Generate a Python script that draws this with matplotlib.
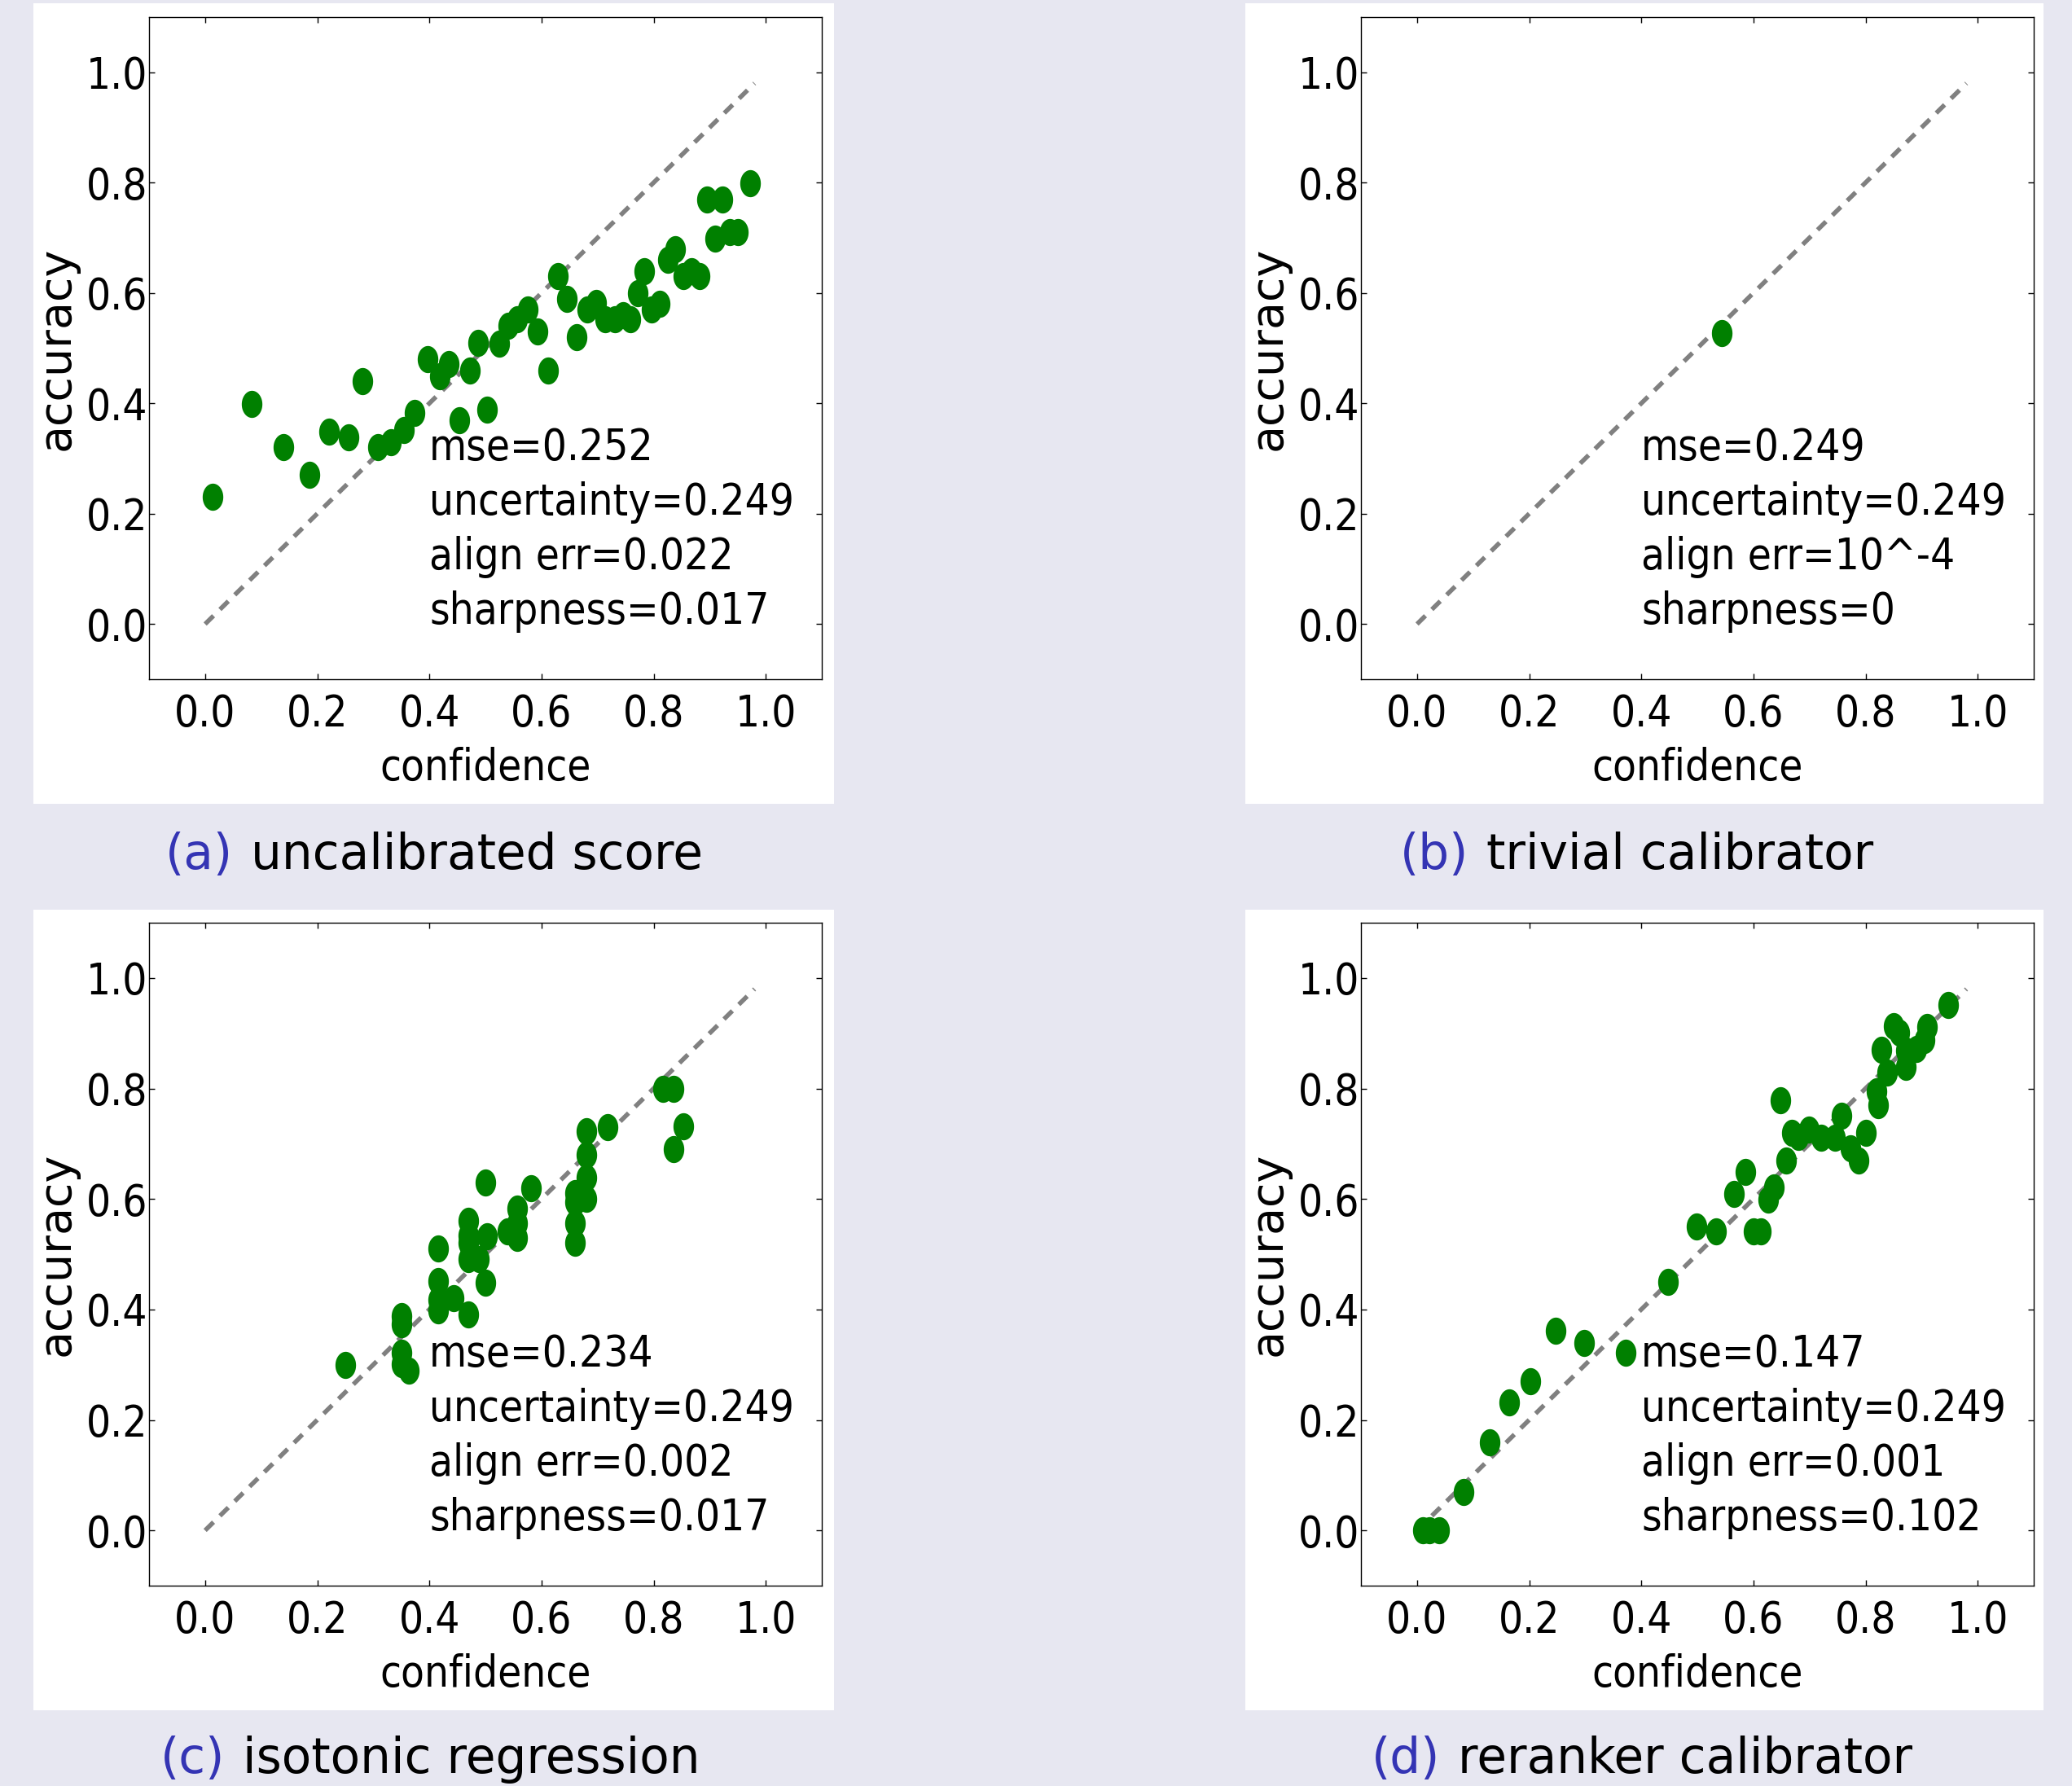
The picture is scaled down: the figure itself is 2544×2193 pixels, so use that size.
import numpy as np
import matplotlib
matplotlib.use("Agg")
import matplotlib.pyplot as plt
from matplotlib.patches import Rectangle
from matplotlib.ticker import FormatStrFormatter

# ---- data ----
conf_a = [0.014, 0.083, 0.140, 0.186, 0.221, 0.256, 0.281, 0.308, 0.332, 0.354,
          0.374, 0.397, 0.418, 0.434, 0.454, 0.473, 0.487, 0.503, 0.524, 0.540,
          0.556, 0.575, 0.593, 0.612, 0.629, 0.646, 0.663, 0.682, 0.698, 0.713,
          0.731, 0.746, 0.758, 0.771, 0.783, 0.797, 0.811, 0.825, 0.838, 0.853,
          0.867, 0.882, 0.895, 0.923, 0.909, 0.936, 0.950, 0.972]
acc_a = [0.230, 0.399, 0.320, 0.270, 0.349, 0.339, 0.440, 0.320, 0.329, 0.351,
         0.382, 0.480, 0.449, 0.471, 0.370, 0.460, 0.510, 0.389, 0.508, 0.541,
         0.552, 0.570, 0.530, 0.460, 0.631, 0.590, 0.520, 0.570, 0.582, 0.552,
         0.552, 0.560, 0.552, 0.600, 0.640, 0.570, 0.581, 0.660, 0.680, 0.630,
         0.640, 0.630, 0.770, 0.770, 0.699, 0.710, 0.710, 0.799]

conf_b = [0.543]
acc_b = [0.528]

conf_c = [0.250, 0.351, 0.351, 0.351, 0.351, 0.364, 0.416, 0.416, 0.416, 0.416,
          0.443, 0.470, 0.470, 0.470, 0.470, 0.470, 0.489, 0.500, 0.503, 0.500,
          0.539, 0.556, 0.556, 0.556, 0.582, 0.660, 0.660, 0.660, 0.660, 0.680,
          0.680, 0.680, 0.680, 0.718, 0.816, 0.835, 0.835, 0.853]
acc_c = [0.300, 0.388, 0.373, 0.322, 0.301, 0.289, 0.510, 0.451, 0.417, 0.399,
         0.420, 0.391, 0.561, 0.534, 0.520, 0.491, 0.491, 0.630, 0.532, 0.449,
         0.542, 0.583, 0.556, 0.529, 0.620, 0.610, 0.594, 0.556, 0.520, 0.722,
         0.680, 0.639, 0.600, 0.730, 0.800, 0.800, 0.690, 0.731]

conf_d = [0.010, 0.022, 0.039, 0.083, 0.129, 0.164, 0.202, 0.247, 0.298, 0.372,
          0.447, 0.499, 0.534, 0.565, 0.586, 0.600, 0.613, 0.626, 0.637, 0.648,
          0.658, 0.668, 0.680, 0.699, 0.721, 0.745, 0.757, 0.773, 0.787, 0.801,
          0.820, 0.823, 0.828, 0.839, 0.850, 0.860, 0.872, 0.872, 0.891, 0.905,
          0.910, 0.947]
acc_d = [0.000, 0.000, 0.000, 0.070, 0.160, 0.231, 0.270, 0.361, 0.339, 0.321,
         0.450, 0.550, 0.541, 0.609, 0.649, 0.541, 0.541, 0.599, 0.621, 0.779,
         0.670, 0.719, 0.712, 0.726, 0.711, 0.711, 0.751, 0.692, 0.670, 0.720,
         0.795, 0.770, 0.870, 0.829, 0.913, 0.901, 0.869, 0.839, 0.871, 0.888,
         0.911, 0.951]

diag = [0.0, 0.98]
ticks = [0.0, 0.2, 0.4, 0.6, 0.8, 1.0]

letters = ["(a)", "(b)", "(c)", "(d)"]
captions = ["uncalibrated score", "trivial calibrator",
            "isotonic regression", "reranker calibrator"]
stats = [
    "mse=0.252\nuncertainty=0.249\nalign err=0.022\nsharpness=0.017",
    "mse=0.249\nuncertainty=0.249\nalign err=10^-4\nsharpness=0",
    "mse=0.234\nuncertainty=0.249\nalign err=0.002\nsharpness=0.017",
    "mse=0.147\nuncertainty=0.249\nalign err=0.001\nsharpness=0.102",
]
series = [(conf_a, acc_a), (conf_b, acc_b), (conf_c, acc_c), (conf_d, acc_d)]

# ---- layout (pixel boxes measured on the 2544x2193 reference) ----
W, H = 2544, 2193
bg = "#e7e7f1"
blue = "#3434b4"
green = "#008000"

plt.rcParams["font.family"] = ["DejaVu Sans"]

fig = plt.figure(figsize=(W / 100, H / 100), dpi=100, facecolor=bg)


def frac(x0, y0, x1, y1):
    # pixel box (top-left origin) -> figure fraction rect
    return [x0 / W, 1 - y1 / H, (x1 - x0) / W, (y1 - y0) / H]


panels = [(41, 4, 1024, 987), (1529, 4, 2509, 987),
          (41, 1117, 1024, 2100), (1529, 1117, 2509, 2100)]
axboxes = [(183, 21, 1009, 834), (1671, 21, 2497, 834),
           (183, 1133, 1009, 1947), (1671, 1133, 2497, 1947)]
cap_left = [203, 1719, 197, 1684]
cap_base = [1067, 1067, 2177, 2177]

# elliptical marker (the source figure was squeezed sideways)
t = np.linspace(0, 2 * np.pi, 60)
ellipse = np.column_stack([0.76 * np.cos(t), np.sin(t)])

for i in range(4):
    r = frac(*panels[i])
    fig.patches.append(Rectangle((r[0], r[1]), r[2], r[3], transform=fig.transFigure,
                                 facecolor="white", edgecolor="none", zorder=-10))

    ax = fig.add_axes(frac(*axboxes[i]))
    conf, acc = series[i]
    ax.plot(diag, diag, color="#808080", lw=4, dashes=(2.6, 2.0), zorder=2)
    ax.plot(conf, acc, linestyle="none", marker=ellipse, ms=24, mew=0,
            color=green, zorder=3)
    ax.text(0.4, 0.0, stats[i], fontsize=38, fontstretch="condensed",
            ha="left", va="baseline", linespacing=1.37, zorder=4)

    ax.set_xlim(-0.1, 1.1)
    ax.set_ylim(-0.1, 1.1)
    ax.set_xticks(ticks)
    ax.set_yticks(ticks)
    ax.xaxis.set_major_formatter(FormatStrFormatter("%.1f"))
    ax.yaxis.set_major_formatter(FormatStrFormatter("%.1f"))
    ax.tick_params(direction="in", length=5, width=1, top=True, right=True)
    ax.tick_params(axis="x", pad=12)
    ax.tick_params(axis="y", pad=1)
    for lab in ax.get_xticklabels() + ax.get_yticklabels():
        lab.set_fontsize(38)
        lab.set_fontstretch("condensed")
    for s in ax.spines.values():
        s.set_linewidth(1.0)

    ax.set_xlabel("confidence", fontsize=38, fontstretch="condensed", labelpad=10)
    ax.set_ylabel("accuracy", fontsize=40)
    ax.yaxis.set_label_coords(-0.105, 0.5)

    lt = fig.text(cap_left[i] / W, 1 - cap_base[i] / H, letters[i], color=blue,
                  fontsize=43, ha="left", va="baseline")
    fig.add_artist(plt.Annotation(captions[i], xy=(1, 0), xycoords=lt,
                                  xytext=(22, 0), textcoords="offset pixels",
                                  fontsize=43, ha="left", va="bottom",
                                  annotation_clip=False))

fig.savefig("out.png", dpi=100, facecolor=bg)
